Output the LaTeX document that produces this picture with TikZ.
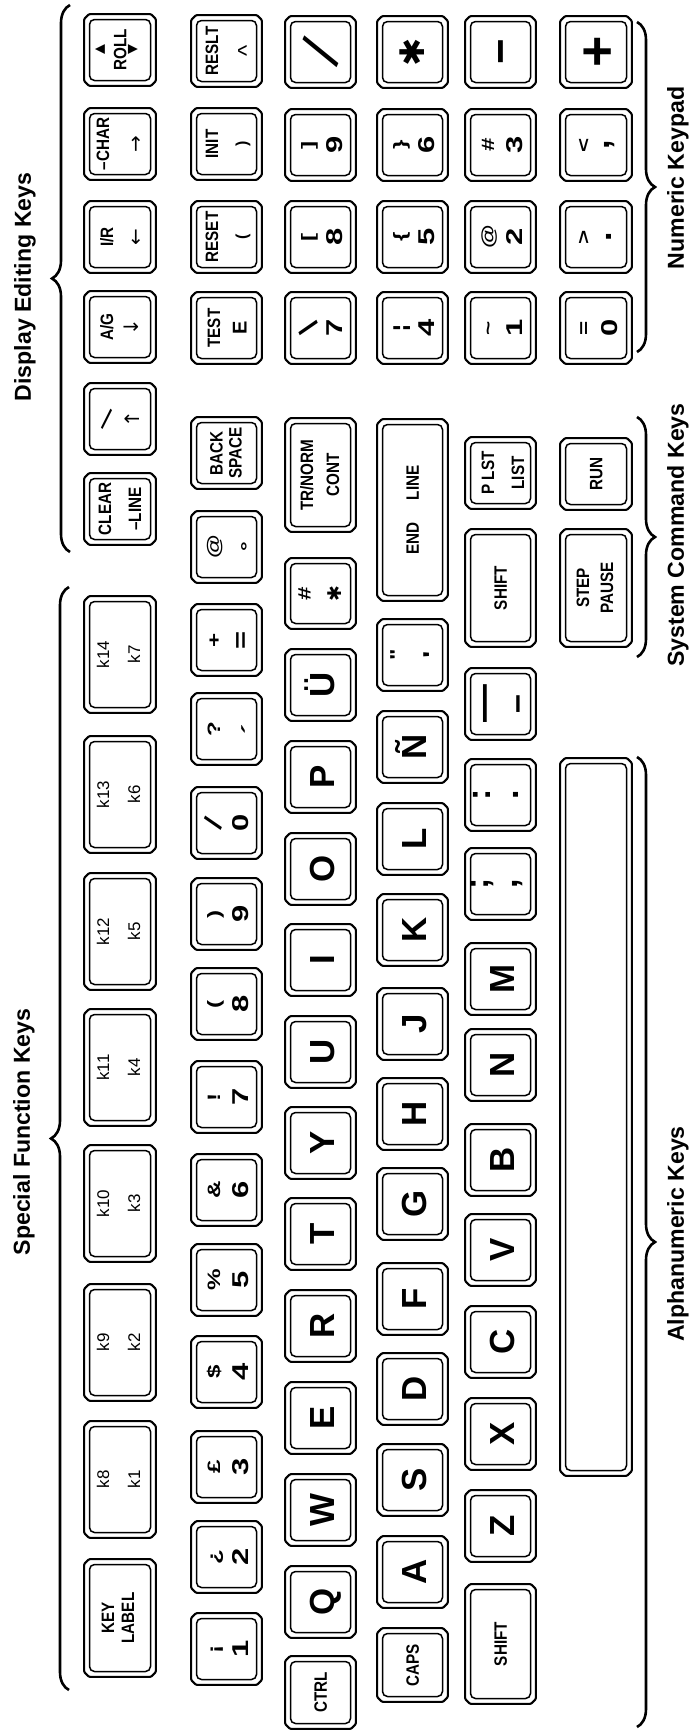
\documentclass[tikz,border=0pt]{standalone}
\usepackage{fontspec}
\usepackage{graphicx}
\usetikzlibrary{decorations.pathreplacing}
\newfontfamily\kbsans{Liberation Sans}
\newfontfamily\kbcond{Liberation Sans}[FakeStretch=0.85]
\newfontfamily\kbwide{Liberation Sans}[FakeStretch=1.35]
\newfontfamily\kbdeja{DejaVu Sans}
\newcommand\kfL{\kbsans\bfseries\fontsize{35}{38}\selectfont}
\newcommand\kfD{\kbwide\bfseries\fontsize{23}{25}\selectfont}
\newcommand\kfU{\kbwide\bfseries\fontsize{18}{20}\selectfont}
\newcommand\kfS{\kbcond\bfseries\fontsize{18}{20}\selectfont}
\newcommand\kfK{\kbsans\fontsize{17}{19}\selectfont}
\newcommand\kfT{\kbsans\bfseries\fontsize{23.2}{26}\selectfont}
\newcommand\kfA{\kbdeja\fontsize{20}{22}\selectfont}
\newcommand\kfTri{\kbdeja\fontsize{13}{14}\selectfont}
\newcommand\kfE{\kbsans\bfseries\fontsize{20}{22}\selectfont}
\newcommand\kfP{\kbsans\bfseries\fontsize{16}{18}\selectfont}
\newcommand\kfC{\kbsans\fontsize{24}{26}\selectfont}
\newcommand\kfX{\kbsans\bfseries\fontsize{34}{36}\selectfont}
\newcommand\kfMi{\kbsans\bfseries\fontsize{44}{46}\selectfont}
\newcommand\kfPl{\kbsans\bfseries\fontsize{54}{56}\selectfont}
\newcommand\kfEm{\kbsans\bfseries\fontsize{38}{40}\selectfont}
\newcommand\kfEn{\kbsans\bfseries\fontsize{34}{36}\selectfont}
\newcommand\kfSt{\kbdeja\fontsize{19}{21}\selectfont}
\newcommand\kfBSt{\kbdeja\fontsize{34}{36}\selectfont}

\tikzset{
  kout/.style={draw, line width=2.1bp, rounded corners=1bp},
  kin/.style={draw, line width=1.5bp, rounded corners=5bp},
  lgb/.style={rotate=90, anchor=base, inner sep=0pt, outer sep=0pt},
  lgc/.style={rotate=90, anchor=center, inner sep=0pt, outer sep=0pt},
  brc/.style={draw, line width=2.6bp, decorate, decoration={brace, amplitude=18bp}},
  seclab/.style={rotate=90, font=\kfT, inner sep=0pt, anchor=center},
}

% key frame: name, x1, y1, x2, y2 (image coordinates, y downwards)
\newcommand\kk[5]{%
  \draw[kout] ({#2+6.1},{#3+1.1}) -- ({#4-6.1},{#3+1.1}) -- ({#4-1.1},{#3+6.1}) --
    ({#4-1.1},{#5-6.1}) -- ({#4-6.1},{#5-1.1}) -- ({#2+6.1},{#5-1.1}) --
    ({#2+1.1},{#5-6.1}) -- ({#2+1.1},{#3+6.1}) -- cycle;
  \draw[kin] ({#2+6.5},{#3+6.5}) rectangle ({#4-6.5},{#5-6.5});
  \coordinate (#1) at ({(#2+#4)/2},{(#3+#5)/2});
}
\newcommand\kA[2]{\kk{#1}{83}{#2}{157}{#2+74}}
\newcommand\kB[2]{\kk{#1}{190}{#2}{263}{#2+74}}
\newcommand\kC[2]{\kk{#1}{284}{#2}{357}{#2+74}}
\newcommand\kD[2]{\kk{#1}{376}{#2}{449}{#2+74}}
\newcommand\kE[2]{\kk{#1}{464}{#2}{537}{#2+74}}
\newcommand\kF[2]{\kk{#1}{559}{#2}{633}{#2+74}}
% legends: name, font, shift, key, text
\newcommand\kgb[5]{\node[lgb,font=#2] (#1) at ([shift={(#3)}]#4) {#5};}
\newcommand\kgc[5]{\node[lgc,font=#2] (#1) at ([shift={(#3)}]#4) {#5};}
\newcommand\knum[3]{\kgb{#1a}{\kfU}{-6.5,0}{#1}{#2}\kgb{#1b}{\kfD}{21.7,0}{#1}{#3}}
\newcommand\klet[2]{\kgb{#1a}{\kfL}{14,0}{#1}{#2}}
\newcommand\ksmall[2]{\kgb{#1a}{\kfS}{6.4,0}{#1}{#2}}
\newcommand\kfun[3]{\kgb{#1a}{\kfK}{-11,0}{#1}{#2}\kgb{#1b}{\kfK}{20,0}{#1}{#3}}
\newcommand\kslash[3]{{\kbsans#1\fontsize{#2}{#2}\selectfont\rotatebox{#3}{/}}}
\newcommand\kbslash[3]{{\kbsans#1\fontsize{#2}{#2}\selectfont\rotatebox{#3}{\textbackslash}}}

\begin{document}
\begin{tikzpicture}[x=1bp,y=-1bp]
\useasboundingbox (0,0) rectangle (697,1733);

% ---------------- row 1 (top of keyboard) ----------------
\kA{roll}{13}
\kA{chr}{107}
\kA{ir}{200}
\kA{ag}{290}
\kA{bsl}{382}
\kA{clr}{472}
\kk{f14}{83}{595}{157}{714}
\kk{f13}{83}{735}{157}{854}
\kk{f12}{83}{872}{157}{991}
\kk{f11}{83}{1008}{157}{1127}
\kk{f10}{83}{1144}{157}{1263}
\kk{f9}{83}{1283}{157}{1402}
\kk{f8}{83}{1420}{157}{1539}
\kk{klab}{83}{1558}{157}{1678}

\kgc{rollA}{\kfTri}{-20,0}{roll}{▲}
\kgb{rollB}{\kfS}{6.4,0}{roll}{ROLL}
\kgc{rollC}{\kfTri}{13,0}{roll}{▼}
\kgb{chrA}{\kfS}{-11,0}{chr}{–CHAR}
\kgc{chrB}{\kfA}{17,0}{chr}{→}
\kgb{irA}{\kfS}{-7,0}{ir}{I/R}
\kgc{irB}{\kfA}{17,0}{ir}{←}
\kgb{agA}{\kfS}{-7,0}{ag}{A/G}
\kgc{agB}{\kfA}{11,0}{ag}{↓}
\kgc{bslA}{}{-13,0}{bsl}{\kbslash{\mdseries}{28}{48}}
\kgc{bslB}{\kfA}{12,0}{bsl}{↑}
\kgb{clrA}{\kfS}{-9,0}{clr}{CLEAR}
\kgb{clrB}{\kfS}{21,0}{clr}{–LINE}
\kfun{f14}{k14}{k7}
\kfun{f13}{k13}{k6}
\kfun{f12}{k12}{k5}
\kfun{f11}{k11}{k4}
\kfun{f10}{k10}{k3}
\kfun{f9}{k9}{k2}
\kfun{f8}{k8}{k1}
\kgb{klabA}{\kfS}{-6,0}{klab}{KEY}
\kgb{klabB}{\kfS}{14,0}{klab}{LABEL}

% ---------------- row 2 ----------------
\kB{reslt}{14}
\kB{init}{107}
\kB{reset}{200}
\kB{test}{291}
\kB{back}{416}
\kB{at}{510}
\kB{plus}{603}
\kB{ques}{692}
\kB{n0}{786}
\kB{n9}{877}
\kB{n8}{967}
\kB{n7}{1060}
\kB{n6}{1153}
\kB{n5}{1243}
\kB{n4}{1335}
\kB{n3}{1430}
\kB{n2}{1520}
\kB{n1}{1612}

\kgb{resltA}{\kfS}{-8.5,0}{reslt}{RESLT}
\kgb{resltB}{\kfC}{28,0}{reslt}{\textasciicircum}
\kgb{initA}{\kfS}{-8.5,0}{init}{INIT}
\kgc{initB}{\kfP}{16.5,0}{init}{)}
\kgb{resetA}{\kfS}{-8.5,0}{reset}{RESET}
\kgc{resetB}{\kfP}{16.5,0}{reset}{(}
\kgb{testA}{\kfS}{-6.5,0}{test}{TEST}
\kgb{testB}{\kfE}{20,0}{test}{E}
\kgb{backA}{\kfS}{-4,0}{back}{BACK}
\kgb{backB}{\kfS}{15,0}{back}{SPACE}
\kgb{atA}{\kfU}{-7,0}{at}{@}
\kgc{atB}{\kfU}{21,0}{at}{°}
\knum{plus}{+}{=}
\kgb{quesA}{\kfU}{-6.5,0}{ques}{?}
\kgc{quesB}{\kfD}{24,0}{ques}{´}
\kgc{n0a}{}{-13,0}{n0}{\kslash{\bfseries}{27}{-24}}
\kgb{n0b}{\kfD}{21.7,0}{n0}{0}
\knum{n9}{)}{9}
\knum{n8}{(}{8}
\knum{n7}{!}{7}
\knum{n6}{\&}{6}
\knum{n5}{\%}{5}
\knum{n4}{\$}{4}
\knum{n3}{£}{3}
\knum{n2}{¿}{2}
\knum{n1}{¡}{1}

% ---------------- row 3 ----------------
\kC{kpsl}{15}
\kC{kp9}{108}
\kC{kp8}{200}
\kC{kp7}{291}
\kk{trn}{284}{417}{357}{533}
\kk{hash}{284}{557}{357}{630}
\kC{kuu}{648}
\kC{kp}{740}
\kC{ko}{832}
\kC{ki}{923}
\kC{ku}{1015}
\kC{ky}{1106}
\kC{kt}{1197}
\kC{kr}{1289}
\kC{ke}{1381}
\kC{kw}{1473}
\kC{kq}{1565}
\kk{ctrl}{284}{1655}{357}{1730}

\kgc{kpslA}{}{0,0}{kpsl}{\kslash{\mdseries}{58}{-24}}
\knum{kp9}{]}{9}
\knum{kp8}{[}{8}
\kgc{kp7a}{}{-12,0}{kp7}{\kbslash{\bfseries}{29}{24}}
\kgb{kp7b}{\kfD}{21.7,0}{kp7}{7}
\kgb{trnA}{\kfS}{-7.5,0}{trn}{TR/NORM}
\kgb{trnB}{\kfS}{18.5,0}{trn}{CONT}
\kgb{hashA}{\kfU}{-10,0}{hash}{\#}
\kgc{hashB}{\kfSt}{14.5,0}{hash}{✱}
\klet{kuu}{Ü}
\klet{kp}{P}
\klet{ko}{O}
\klet{ki}{I}
\klet{ku}{U}
\klet{ky}{Y}
\klet{kt}{T}
\klet{kr}{R}
\klet{ke}{E}
\klet{kw}{W}
\klet{kq}{Q}
\ksmall{ctrl}{CTRL}

% ---------------- row 4 ----------------
\kD{kpst}{15}
\kD{kp6}{108}
\kD{kp5}{200}
\kD{kp4}{291}
\kk{endl}{376}{418}{449}{602}
\kD{quo}{618}
\kD{knn}{710}
\kD{kl}{802}
\kD{kk}{893}
\kD{kj}{987}
\kD{kh}{1077}
\kD{kg}{1167}
\kD{kf}{1262}
\kD{kd}{1352}
\kD{ks}{1443}
\kD{ka}{1535}
\kk{caps}{376}{1627}{449}{1703}

\kgc{kpstA}{\kfBSt}{0,0}{kpst}{✱}
\knum{kp6}{\}}{6}
\knum{kp5}{\{}{5}
\knum{kp4}{¦}{4}
\kgb{endlA}{\kfS}{6.4,0}{endl}{END\hspace{22bp}LINE}
\kgb{quoA}{\kfU}{-10,0}{quo}{"}
\kgb{quoB}{\kfD}{27,0}{quo}{'}
\klet{knn}{Ñ}
\klet{kl}{L}
\klet{kk}{K}
\klet{kj}{J}
\klet{kh}{H}
\klet{kg}{G}
\klet{kf}{F}
\klet{kd}{D}
\klet{ks}{S}
\klet{ka}{A}
\ksmall{caps}{CAPS}

% ---------------- row 5 ----------------
\kE{kpmi}{15}
\kE{kp3}{108}
\kE{kp2}{200}
\kE{kp1}{291}
\kk{plst}{464}{436}{537}{510}
\kk{shr}{464}{528}{537}{648}
\kE{us}{667}
\kE{col}{758}
\kE{semi}{847}
\kE{km}{942}
\kE{kn}{1028}
\kE{kb}{1123}
\kE{kv}{1213}
\kE{kc}{1305}
\kE{kx}{1397}
\kE{kz}{1489}
\kk{shl}{464}{1583}{537}{1705}

\kgb{kpmiA}{\kfMi}{15,0}{kpmi}{−}
\knum{kp3}{\#}{3}
\knum{kp2}{@}{2}
\knum{kp1}{\textasciitilde}{1}
\kgb{plstA}{\kfS}{-6.5,0}{plst}{P LST}
\kgb{plstB}{\kfS}{23.5,0}{plst}{LIST}
\ksmall{shr}{SHIFT}
\kgb{usA}{\kfEm}{-5,0}{us}{—}
\kgb{usB}{\kfEn}{27,0}{us}{–}
\kgb{colA}{\kfX}{-10,0}{col}{:}
\kgb{colB}{\kfX}{18.4,0}{col}{.}
\kgb{semiA}{\kfX}{-12,0}{semi}{;}
\kgb{semiB}{\kfX}{16.5,0}{semi}{,}
\klet{km}{M}
\klet{kn}{N}
\klet{kb}{B}
\klet{kv}{V}
\klet{kc}{C}
\klet{kx}{X}
\klet{kz}{Z}
\ksmall{shl}{SHIFT}

% ---------------- row 6 ----------------
\kF{kppl}{15}
\kF{kpcm}{108}
\kF{kpdt}{200}
\kF{kp0}{291}
\kF{run}{437}
\kk{step}{559}{528}{633}{648}
\kk{space}{559}{757}{633}{1477}

\kgb{kpplA}{\kfPl}{19,0}{kppl}{+}
\kgb{kpcmA}{\kfU}{-6.5,0}{kpcm}{<}
\kgb{kpcmB}{\kfX}{13,0}{kpcm}{,}
\kgb{kpdtA}{\kfU}{-6.5,0}{kpdt}{>}
\kgb{kpdtB}{\kfX}{15,0}{kpdt}{.}
\knum{kp0}{=}{0}
\ksmall{run}{RUN}
\kgb{stepA}{\kfS}{-7,0}{step}{STEP}
\kgb{stepB}{\kfS}{17,0}{step}{PAUSE}

% ---------------- braces ----------------
\draw[brc] (70,552) -- (70,5);
\draw[brc] (69,1690) -- (69,587);
\draw[brc] (637,22) -- (637,352);
\draw[brc] (637,417) -- (637,657);
\draw[brc] (637,757) -- (637,1727);

% ---------------- group labels ----------------
\node[seclab] (tDE) at (25,287) {Display Editing Keys};
\node[seclab] (tSF) at (24,1132) {Special Function Keys};
\node[seclab] (tNK) at (678,178) {Numeric Keypad};
\node[seclab] (tSC) at (678,535) {System Command Keys};
\node[seclab] (tAK) at (678,1234) {Alphanumeric Keys};
\end{tikzpicture}
\end{document}
